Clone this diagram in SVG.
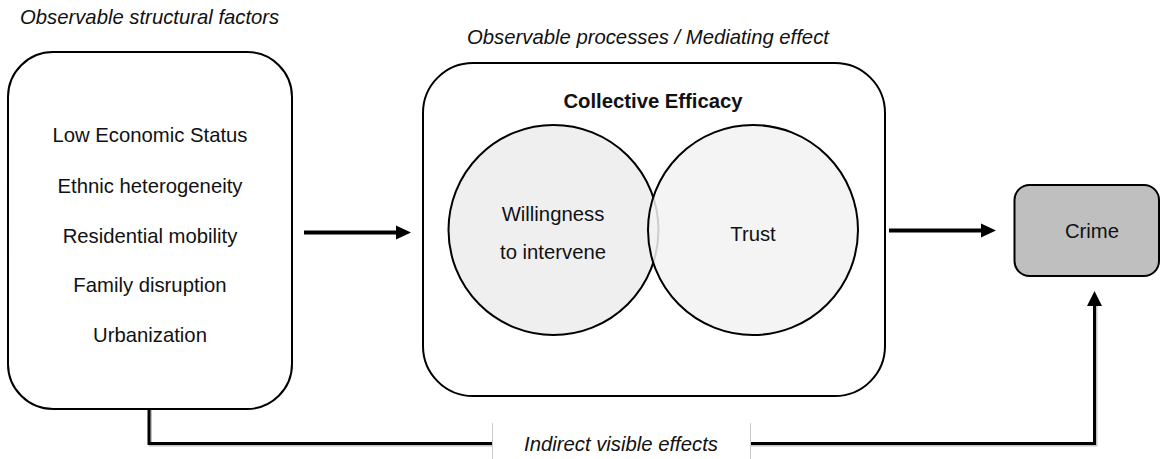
<svg xmlns="http://www.w3.org/2000/svg" width="1161" height="459" viewBox="0 0 1161 459">
<defs>
<style>
.t{font-family:"Liberation Sans",Arial,sans-serif;font-size:20.3px;fill:#111;text-anchor:middle}
.i{font-style:italic}
.b{font-weight:bold}
.box{fill:#fff;stroke:#000;stroke-width:2}
.c{stroke:#000;stroke-width:2}
.con{fill:none;stroke:#000;stroke-width:4}
.head{fill:#000}
</style>
</defs>
<rect width="1161" height="459" fill="#fff"/>
<text class="t i" x="20" y="24" style="text-anchor:start">Observable structural factors</text>
<text class="t i" x="648" y="44">Observable processes / Mediating effect</text>
<g id="structural">
<rect class="box" x="8" y="52" width="284" height="357" rx="45" ry="45"/>
<text class="t" x="150" y="142">Low Economic Status</text>
<text class="t" x="150" y="193">Ethnic heterogeneity</text>
<text class="t" x="150" y="243">Residential mobility</text>
<text class="t" x="150" y="292">Family disruption</text>
<text class="t" x="150" y="342">Urbanization</text>
</g>
<g id="collective">
<rect class="box" x="423" y="63" width="462" height="333" rx="50" ry="50"/>
<text class="t b" x="653" y="108">Collective Efficacy</text>
<circle class="c" cx="553.5" cy="230" r="105" fill="#efefef"/>
<circle class="c" cx="753" cy="230" r="105" fill="#f2f2f2" fill-opacity="0.85"/>
<text class="t" x="553" y="221">Willingness</text>
<text class="t" x="553" y="259">to intervene</text>
<text class="t" x="753" y="241">Trust</text>
</g>
<g id="crime">
<rect x="1014.5" y="185" width="144.5" height="91" rx="15" ry="15" fill="#bfbfbf" stroke="#000" stroke-width="2"/>
<text class="t" x="1092" y="238">Crime</text>
</g>
<g id="connectors">
<line class="con" x1="304" y1="232.5" x2="397" y2="232.5"/>
<path class="head" d="M396,225.5 L411,232.5 L396,239.5 Z"/>
<line class="con" x1="889" y1="230.5" x2="982" y2="230.5"/>
<path class="head" d="M981,223.5 L996,230.5 L981,237.5 Z"/>
<polyline fill="none" stroke="#888" stroke-width="3" opacity="0.5" points="150.5,410 150.5,445 1096,445 1096,306"/>
<polyline fill="none" stroke="#000" stroke-width="3" points="149,409 149,443.5 1094.5,443.5 1094.5,305"/>
<path class="head" d="M1087,306 L1094.5,291 L1102,306 Z"/>
<g id="label">
<rect x="492.5" y="423" width="258" height="36" fill="#fff"/>
<line x1="492.5" y1="423" x2="492.5" y2="459" stroke="#ccc" stroke-width="1"/>
<line x1="750.5" y1="423" x2="750.5" y2="459" stroke="#ccc" stroke-width="1"/>
<text class="t i" x="621" y="451">Indirect visible effects</text>
</g>
</g>
</svg>
